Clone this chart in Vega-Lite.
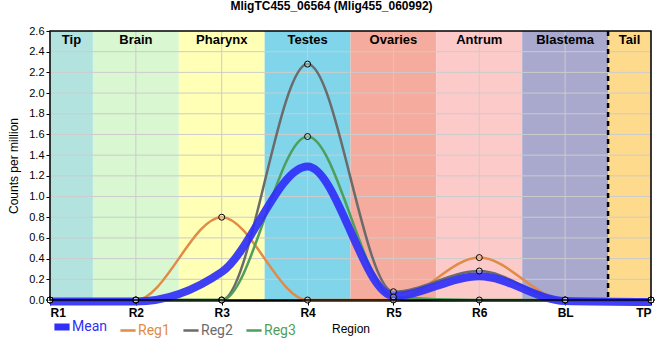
{
  "$schema": "https://vega.github.io/schema/vega-lite/v6.json",
  "width": 601,
  "height": 269,
  "autosize": {"type": "none"},
  "padding": {"left": 50, "top": 31, "right": 9, "bottom": 60},
  "title": {"text": "MligTC455_06564 (Mlig455_060992)", "font": "Liberation Sans", "fontSize": 12, "fontWeight": "bold", "anchor": "middle", "dx": -19, "offset": 12, "color": "black"},
  "config": {
    "font": "Liberation Sans",
    "view": {"stroke": null},
    "axis": {"grid": false, "zindex": 1}
  },
  "datasets": {
    "bands": [
      {"region": "Tip", "start": 0, "end": 0.5, "mid": 0.25, "col": "#b3e3de"},
      {"region": "Brain", "start": 0.5, "end": 1.5, "mid": 1, "col": "#d9f7d1"},
      {"region": "Pharynx", "start": 1.5, "end": 2.5, "mid": 2, "col": "#ffffb5"},
      {"region": "Testes", "start": 2.5, "end": 3.5, "mid": 3, "col": "#80d5ea"},
      {"region": "Ovaries", "start": 3.5, "end": 4.5, "mid": 4, "col": "#f5ab9d"},
      {"region": "Antrum", "start": 4.5, "end": 5.5, "mid": 5, "col": "#fdcaca"},
      {"region": "Blastema", "start": 5.5, "end": 6.5, "mid": 6, "col": "#a9a8cd"},
      {"region": "Tail", "start": 6.5, "end": 7, "mid": 6.75, "col": "#fdda8c"}
    ],
    "yticks": [
      {"tick": 0.2}, {"tick": 0.4}, {"tick": 0.6}, {"tick": 0.8}, {"tick": 1.0}, {"tick": 1.2}, {"tick": 1.4},
      {"tick": 1.6}, {"tick": 1.8}, {"tick": 2.0}, {"tick": 2.2}, {"tick": 2.4}
    ],
    "reps": [
      {"series": "Reg1", "x": 0, "v": 0}, {"series": "Reg1", "x": 1, "v": 0}, {"series": "Reg1", "x": 2, "v": 0.8}, {"series": "Reg1", "x": 3, "v": 0},
      {"series": "Reg1", "x": 4, "v": 0}, {"series": "Reg1", "x": 5, "v": 0.41}, {"series": "Reg1", "x": 6, "v": 0}, {"series": "Reg1", "x": 7, "v": 0},
      {"series": "Reg2", "x": 0, "v": 0}, {"series": "Reg2", "x": 1, "v": 0}, {"series": "Reg2", "x": 2, "v": 0}, {"series": "Reg2", "x": 3, "v": 2.28},
      {"series": "Reg2", "x": 4, "v": 0.08}, {"series": "Reg2", "x": 5, "v": 0.28}, {"series": "Reg2", "x": 6, "v": 0}, {"series": "Reg2", "x": 7, "v": 0},
      {"series": "Reg3", "x": 0, "v": 0}, {"series": "Reg3", "x": 1, "v": 0}, {"series": "Reg3", "x": 2, "v": 0}, {"series": "Reg3", "x": 3, "v": 1.58},
      {"series": "Reg3", "x": 4, "v": 0.03}, {"series": "Reg3", "x": 5, "v": 0}, {"series": "Reg3", "x": 6, "v": 0}, {"series": "Reg3", "x": 7, "v": 0}
    ],
    "mean": [
      {"series": "Mean", "x": 0, "v": -0.015}, {"series": "Mean", "x": 1, "v": -0.015}, {"series": "Mean", "x": 2, "v": 0.27}, {"series": "Mean", "x": 3, "v": 1.29},
      {"series": "Mean", "x": 4, "v": 0.04}, {"series": "Mean", "x": 5, "v": 0.23}, {"series": "Mean", "x": 6, "v": -0.01}, {"series": "Mean", "x": 7, "v": -0.02}
    ]
  },
  "layer": [
    {
      "data": {"name": "bands"},
      "mark": {"type": "rect"},
      "encoding": {
        "x": {"field": "start", "type": "quantitative",
          "scale": {"domain": [0, 7], "nice": false, "zero": false},
          "axis": {"orient": "bottom", "values": [0, 1, 2, 3, 4, 5, 6, 7], "labelExpr": "['R1','R2','R3','R4','R5','R6','BL','TP'][datum.value]",
            "title": "Region", "titleFontWeight": "normal", "titleFontSize": 12, "titleColor": "black", "titlePadding": 5,
            "labelFontWeight": "bold", "labelFontSize": 12, "labelColor": "black", "labelPadding": 2,
            "tickColor": "black", "tickSize": 5, "domainColor": "black", "domainWidth": 2.5}},
        "x2": {"field": "end"},
        "fill": {"field": "col", "type": "nominal", "scale": null, "legend": null}
      }
    },
    {
      "data": {"name": "yticks"},
      "mark": {"type": "rule", "color": "#cccccc", "strokeWidth": 1},
      "encoding": {
        "y": {"field": "tick", "type": "quantitative",
          "scale": {"domain": [0, 2.6], "nice": false, "zero": false},
          "axis": {"orient": "left", "values": [0, 0.2, 0.4, 0.6, 0.8, 1.0, 1.2, 1.4, 1.6, 1.8, 2.0, 2.2, 2.4, 2.6], "format": ".1f", "labelOverlap": false,
            "labelFontSize": 11, "labelColor": "black", "tickColor": "black", "tickSize": 4, "domainColor": "black",
            "title": "Counts per million", "titleFontWeight": "normal", "titleFontSize": 12, "titleColor": "black", "titlePadding": 8}}
      }
    },
    {
      "data": {"name": "mean"},
      "mark": {"type": "rule", "color": "#cccccc", "strokeWidth": 1},
      "encoding": {
        "x": {"field": "x", "type": "quantitative",
          "axis": {"orient": "bottom", "values": [0, 1, 2, 3, 4, 5, 6, 7], "labelExpr": "['R1','R2','R3','R4','R5','R6','BL','TP'][datum.value]",
            "title": "Region", "titleFontWeight": "normal", "titleFontSize": 12, "titleColor": "black", "titlePadding": 5,
            "labelFontWeight": "bold", "labelFontSize": 12, "labelColor": "black", "labelPadding": 2,
            "tickColor": "black", "tickSize": 5, "domainColor": "black", "domainWidth": 2.5}}
      }
    },
    {
      "data": {"name": "bands"},
      "mark": {"type": "text", "fontWeight": "bold", "fontSize": 13, "baseline": "top", "dy": 3, "color": "black"},
      "encoding": {
        "x": {"field": "mid", "type": "quantitative",
          "axis": {"orient": "bottom", "values": [0, 1, 2, 3, 4, 5, 6, 7], "labelExpr": "['R1','R2','R3','R4','R5','R6','BL','TP'][datum.value]",
            "title": "Region", "titleFontWeight": "normal", "titleFontSize": 12, "titleColor": "black", "titlePadding": 5,
            "labelFontWeight": "bold", "labelFontSize": 12, "labelColor": "black", "labelPadding": 2,
            "tickColor": "black", "tickSize": 5, "domainColor": "black", "domainWidth": 2.5}},
        "y": {"datum": 2.6, "type": "quantitative",
          "axis": {"orient": "left", "values": [0, 0.2, 0.4, 0.6, 0.8, 1.0, 1.2, 1.4, 1.6, 1.8, 2.0, 2.2, 2.4, 2.6], "format": ".1f", "labelOverlap": false,
            "labelFontSize": 11, "labelColor": "black", "tickColor": "black", "tickSize": 4, "domainColor": "black",
            "title": "Counts per million", "titleFontWeight": "normal", "titleFontSize": 12, "titleColor": "black", "titlePadding": 8}},
        "text": {"field": "region"}
      }
    },
    {
      "data": {"name": "bands"},
      "transform": [{"filter": "datum.region === 'Tail'"}],
      "mark": {"type": "rule", "strokeDash": [5, 4], "strokeWidth": 2.5, "color": "black"},
      "encoding": {
        "x": {"field": "start", "type": "quantitative",
          "axis": {"orient": "bottom", "values": [0, 1, 2, 3, 4, 5, 6, 7], "labelExpr": "['R1','R2','R3','R4','R5','R6','BL','TP'][datum.value]",
            "title": "Region", "titleFontWeight": "normal", "titleFontSize": 12, "titleColor": "black", "titlePadding": 5,
            "labelFontWeight": "bold", "labelFontSize": 12, "labelColor": "black", "labelPadding": 2,
            "tickColor": "black", "tickSize": 5, "domainColor": "black", "domainWidth": 2.5}}
      }
    },
    {
      "data": {"name": "reps"},
      "mark": {"type": "line", "interpolate": "monotone", "strokeWidth": 2.5},
      "encoding": {
        "x": {"field": "x", "type": "quantitative",
          "axis": {"orient": "bottom", "values": [0, 1, 2, 3, 4, 5, 6, 7], "labelExpr": "['R1','R2','R3','R4','R5','R6','BL','TP'][datum.value]",
            "title": "Region", "titleFontWeight": "normal", "titleFontSize": 12, "titleColor": "black", "titlePadding": 5,
            "labelFontWeight": "bold", "labelFontSize": 12, "labelColor": "black", "labelPadding": 2,
            "tickColor": "black", "tickSize": 5, "domainColor": "black", "domainWidth": 2.5}},
        "y": {"field": "v", "type": "quantitative",
          "axis": {"orient": "left", "values": [0, 0.2, 0.4, 0.6, 0.8, 1.0, 1.2, 1.4, 1.6, 1.8, 2.0, 2.2, 2.4, 2.6], "format": ".1f", "labelOverlap": false,
            "labelFontSize": 11, "labelColor": "black", "tickColor": "black", "tickSize": 4, "domainColor": "black",
            "title": "Counts per million", "titleFontWeight": "normal", "titleFontSize": 12, "titleColor": "black", "titlePadding": 8}},
        "color": {"field": "series", "type": "nominal",
          "scale": {"domain": ["Mean", "Reg1", "Reg2", "Reg3"], "range": ["#3030f8", "#e08b47", "#6b6b6b", "#4f9e5e"]},
          "legend": {"orient": "none", "legendX": 5, "legendY": 289, "direction": "horizontal", "title": null,
            "symbolType": "stroke", "symbolSize": 230, "labelFontSize": 14, "labelFont": "Roboto", "columnPadding": 8, "labelOffset": 3,
            "encode": {
              "labels": {"update": {"fill": {"signal": "scale('color', datum.value)"}}},
              "symbols": {"update": {"strokeWidth": {"signal": "datum.value === 'Mean' ? 7 : 2.5"}}}
            }}}
      }
    },
    {
      "data": {"name": "mean"},
      "mark": {"type": "line", "interpolate": "monotone", "strokeWidth": 8, "opacity": 0.92},
      "encoding": {
        "x": {"field": "x", "type": "quantitative",
          "axis": {"orient": "bottom", "values": [0, 1, 2, 3, 4, 5, 6, 7], "labelExpr": "['R1','R2','R3','R4','R5','R6','BL','TP'][datum.value]",
            "title": "Region", "titleFontWeight": "normal", "titleFontSize": 12, "titleColor": "black", "titlePadding": 5,
            "labelFontWeight": "bold", "labelFontSize": 12, "labelColor": "black", "labelPadding": 2,
            "tickColor": "black", "tickSize": 5, "domainColor": "black", "domainWidth": 2.5}},
        "y": {"field": "v", "type": "quantitative",
          "axis": {"orient": "left", "values": [0, 0.2, 0.4, 0.6, 0.8, 1.0, 1.2, 1.4, 1.6, 1.8, 2.0, 2.2, 2.4, 2.6], "format": ".1f", "labelOverlap": false,
            "labelFontSize": 11, "labelColor": "black", "tickColor": "black", "tickSize": 4, "domainColor": "black",
            "title": "Counts per million", "titleFontWeight": "normal", "titleFontSize": 12, "titleColor": "black", "titlePadding": 8}},
        "color": {"field": "series", "type": "nominal"}
      }
    },
    {
      "data": {"name": "reps"},
      "mark": {"type": "point", "shape": "circle", "size": 36, "filled": true, "fill": "white", "fillOpacity": 0.3, "stroke": "black", "strokeWidth": 1},
      "encoding": {
        "x": {"field": "x", "type": "quantitative",
          "axis": {"orient": "bottom", "values": [0, 1, 2, 3, 4, 5, 6, 7], "labelExpr": "['R1','R2','R3','R4','R5','R6','BL','TP'][datum.value]",
            "title": "Region", "titleFontWeight": "normal", "titleFontSize": 12, "titleColor": "black", "titlePadding": 5,
            "labelFontWeight": "bold", "labelFontSize": 12, "labelColor": "black", "labelPadding": 2,
            "tickColor": "black", "tickSize": 5, "domainColor": "black", "domainWidth": 2.5}},
        "y": {"field": "v", "type": "quantitative",
          "axis": {"orient": "left", "values": [0, 0.2, 0.4, 0.6, 0.8, 1.0, 1.2, 1.4, 1.6, 1.8, 2.0, 2.2, 2.4, 2.6], "format": ".1f", "labelOverlap": false,
            "labelFontSize": 11, "labelColor": "black", "tickColor": "black", "tickSize": 4, "domainColor": "black",
            "title": "Counts per million", "titleFontWeight": "normal", "titleFontSize": 12, "titleColor": "black", "titlePadding": 8}}
      }
    },
    {
      "data": {"name": "bands"},
      "mark": {"type": "rect", "fill": null, "stroke": "black", "strokeWidth": 1.5},
      "encoding": {
        "x": {"field": "start", "type": "quantitative", "aggregate": "min",
          "axis": {"orient": "bottom", "values": [0, 1, 2, 3, 4, 5, 6, 7], "labelExpr": "['R1','R2','R3','R4','R5','R6','BL','TP'][datum.value]",
            "title": "Region", "titleFontWeight": "normal", "titleFontSize": 12, "titleColor": "black", "titlePadding": 5,
            "labelFontWeight": "bold", "labelFontSize": 12, "labelColor": "black", "labelPadding": 2,
            "tickColor": "black", "tickSize": 5, "domainColor": "black", "domainWidth": 2.5}},
        "x2": {"field": "end", "aggregate": "max"}
      }
    }
  ]
}
